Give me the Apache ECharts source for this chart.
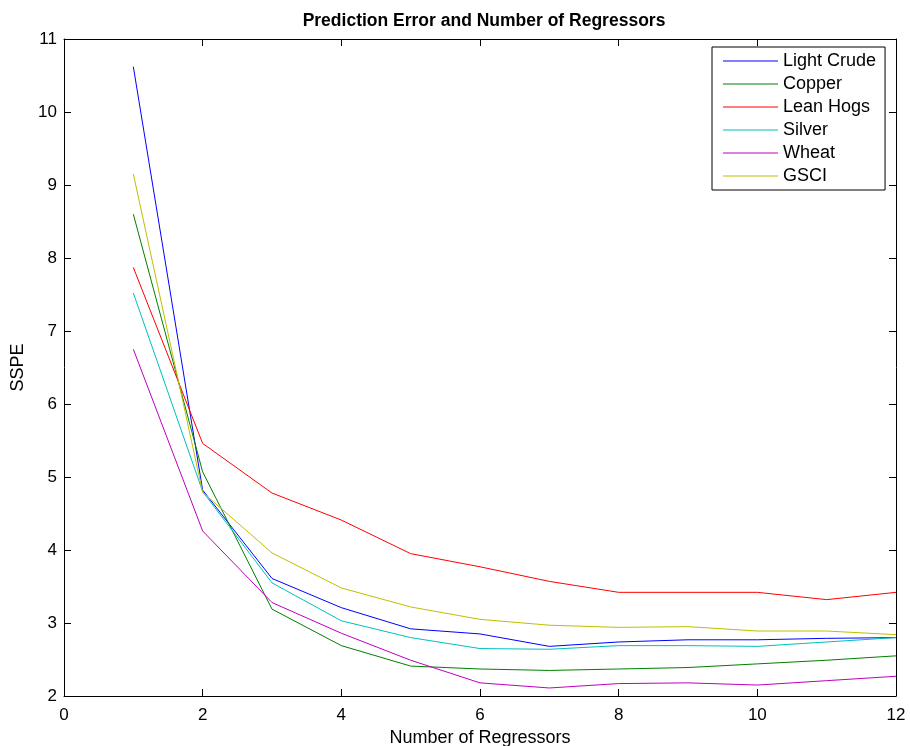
<!DOCTYPE html>
<html>
<head>
<meta charset="utf-8">
<script src="https://cdn.jsdelivr.net/npm/echarts@6/dist/echarts.min.js"></script>
<style>html,body{margin:0;padding:0;background:#fff}#c{width:910px;height:746px}</style>
</head>
<body>
<div id="c"></div>
<script>
const regressors = [1,2,3,4,5,6,7,8,9,10,11,12];
const seriesNames = ['Light Crude','Copper','Lean Hogs','Silver','Wheat','GSCI'];
const lightCrude = [10.62,4.82,3.61,3.21,2.92,2.85,2.68,2.74,2.77,2.77,2.79,2.80];
const copper     = [8.60,5.07,3.19,2.69,2.41,2.37,2.35,2.37,2.39,2.44,2.49,2.55];
const leanHogs   = [7.87,5.46,4.78,4.41,3.95,3.77,3.57,3.42,3.42,3.42,3.32,3.42];
const silver     = [7.52,4.80,3.55,3.03,2.80,2.65,2.64,2.69,2.69,2.68,2.74,2.80];
const wheat      = [6.75,4.26,3.28,2.86,2.49,2.18,2.11,2.17,2.18,2.15,2.21,2.27];
const gsci       = [9.15,4.79,3.96,3.48,3.22,3.05,2.97,2.94,2.95,2.89,2.89,2.84];
const allValues = [lightCrude, copper, leanHogs, silver, wheat, gsci];
const colors = ['#0000ff','#008000','#ff0000','#00bfbf','#bf00bf','#bfbf00'];

const FONT = 'Liberation Sans, Arial, sans-serif';
const chart = echarts.init(document.getElementById('c'), null, {renderer:'canvas'});

const baseAxis = {
  axisLine:{show:true, onZero:false, lineStyle:{color:'#000', width:1}},
  axisTick:{show:true, inside:true, length:7, lineStyle:{color:'#000'}},
  splitLine:{show:false},
};

chart.setOption({
  animation:false,
  backgroundColor:'#fff',
  title:{
    text:'Prediction Error and Number of Regressors',
    left:479, top:7, textAlign:'center',
    textStyle:{fontFamily:FONT, fontSize:17.5, fontWeight:'bold', color:'#000'}
  },
  grid:{left:64, right:14, top:39, bottom:50, containLabel:false, outerBoundsMode:'none'},
  legend:{
    data:seriesNames,
    orient:'vertical',
    left:712, top:47,
    icon:'rect', itemWidth:55, itemHeight:1,
    itemGap:5,
    padding:[5,9,5,11],
    borderColor:'#000', borderWidth:1,
    backgroundColor:'#fff',
    textStyle:{fontFamily:FONT, fontSize:18, color:'#000', lineHeight:18}
  },
  xAxis:[
    Object.assign({}, baseAxis, {
      type:'value', min:0, max:12, interval:2, position:'bottom',
      name:'Number of Regressors', nameLocation:'middle', nameGap:30,
      nameTextStyle:{fontFamily:FONT, fontSize:18, color:'#000'},
      axisLabel:{fontFamily:FONT, fontSize:17, color:'#000', margin:11}
    }),
    Object.assign({}, baseAxis, {
      type:'value', min:0, max:12, interval:2, position:'top',
      axisLabel:{show:false}
    })
  ],
  yAxis:[
    Object.assign({}, baseAxis, {
      type:'value', min:2, max:11, interval:1, position:'left',
      name:'SSPE', nameLocation:'middle', nameGap:36,
      nameTextStyle:{fontFamily:FONT, fontSize:18, color:'#000'},
      axisLabel:{fontFamily:FONT, fontSize:17, color:'#000', margin:7}
    }),
    Object.assign({}, baseAxis, {
      type:'value', min:2, max:11, interval:1, position:'right',
      axisLabel:{show:false}
    })
  ],
  series: seriesNames.map((n,i)=>({
    name:n, type:'line', symbol:'none', smooth:false,
    xAxisIndex:0, yAxisIndex:0,
    lineStyle:{color:colors[i], width:1},
    itemStyle:{color:colors[i]},
    data: regressors.map((x,j)=>[x, allValues[i][j]])
  }))
});
</script>
</body>
</html>
